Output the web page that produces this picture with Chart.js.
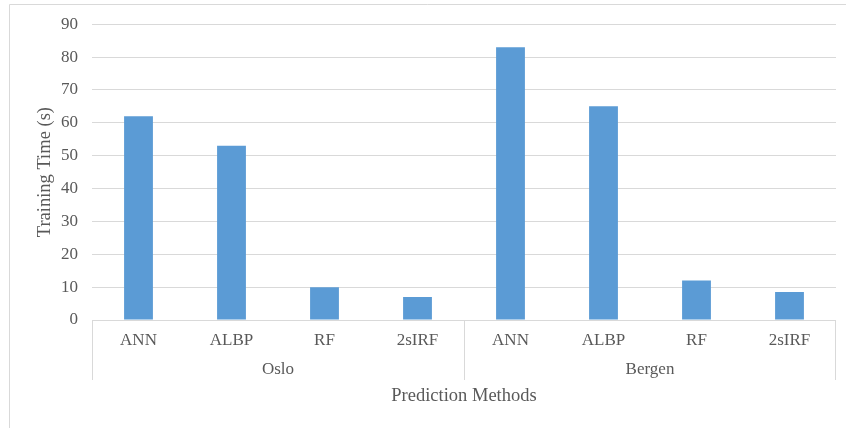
<!DOCTYPE html>
<html>
<head>
<meta charset="utf-8">
<script src="https://cdn.jsdelivr.net/npm/chart.js@4/dist/chart.umd.min.js"></script>
<style>
  html, body { margin: 0; padding: 0; background: #ffffff; }
  #wrap { width: 846px; height: 428px; }
</style>
</head>
<body>
<div id="wrap"><canvas id="chart" width="846" height="428"></canvas></div>
<script>
// Training time per prediction method, grouped by city
const groups = ['Oslo', 'Bergen'];
const methods = ['ANN', 'ALBP', 'RF', '2sIRF'];
const osloTimes = [62, 53, 10, 7];
const bergenTimes = [83, 65, 12, 8.5];
const yTicks = [0, 10, 20, 30, 40, 50, 60, 70, 80, 90];

const TEXT = '#595959';
const LINE = '#d9d9d9';
const FAMILY = '"Liberation Serif", "Times New Roman", serif';

const labels = groups.flatMap(() => methods);
const values = osloTimes.concat(bergenTimes);

// Outer frame plus the city row underneath the method labels
const groupAxis = {
  id: 'groupAxis',
  beforeDraw(chart) {
    const ctx = chart.ctx;
    ctx.save();
    ctx.fillStyle = '#ffffff';
    ctx.fillRect(0, 0, chart.width, chart.height);
    ctx.strokeStyle = LINE;
    ctx.lineWidth = 1;
    ctx.beginPath();
    ctx.moveTo(9.5, chart.height);
    ctx.lineTo(9.5, 4.5);
    ctx.lineTo(chart.width, 4.5);
    ctx.stroke();
    ctx.restore();
  },
  afterDraw(chart) {
    const ctx = chart.ctx;
    const x = chart.scales.x;
    const area = chart.chartArea;
    const half = (x.getPixelForValue(1) - x.getPixelForValue(0)) / 2;
    const lineBottom = area.bottom + 60;
    ctx.save();
    ctx.strokeStyle = LINE;
    ctx.lineWidth = 1;
    // axis line
    ctx.beginPath();
    ctx.moveTo(area.left, Math.round(area.bottom) + 0.5);
    ctx.lineTo(area.right, Math.round(area.bottom) + 0.5);
    ctx.stroke();
    ctx.fillStyle = TEXT;
    ctx.font = '17px ' + FAMILY;
    ctx.textAlign = 'center';
    ctx.textBaseline = 'middle';
    groups.forEach((g, gi) => {
      const first = gi * methods.length;
      const last = first + methods.length - 1;
      const l = x.getPixelForValue(first) - half;
      const r = x.getPixelForValue(last) + half;
      ctx.beginPath();
      ctx.moveTo(Math.round(l) + 0.5, area.bottom);
      ctx.lineTo(Math.round(l) + 0.5, lineBottom);
      if (gi === groups.length - 1) {
        ctx.moveTo(Math.round(r) - 0.5, area.bottom);
        ctx.lineTo(Math.round(r) - 0.5, lineBottom);
      }
      ctx.stroke();
      ctx.fillText(g, (l + r) / 2, area.bottom + 50);
    });
    ctx.restore();
  }
};

new Chart(document.getElementById('chart'), {
  type: 'bar',
  data: {
    labels: labels,
    datasets: [{
      label: 'Training Time (s)',
      data: values,
      backgroundColor: '#5b9bd5',
      borderWidth: 0,
      categoryPercentage: 1,
      barPercentage: 0.31
    }]
  },
  options: {
    responsive: false,
    animation: false,
    devicePixelRatio: 1,
    layout: { padding: { left: 0, top: 24, right: 10, bottom: 0 } },
    plugins: {
      legend: { display: false },
      tooltip: { enabled: false }
    },
    scales: {
      x: {
        grid: { display: false, drawTicks: false },
        border: { display: false },
        ticks: {
          color: TEXT,
          font: { family: FAMILY, size: 17 },
          padding: 10,
          maxRotation: 0,
          autoSkip: false
        },
        title: {
          display: true,
          text: 'Prediction Methods',
          color: TEXT,
          font: { family: FAMILY, size: 18.5 },
          padding: { top: 0, bottom: 21 }
        },
        afterFit(scale) { scale.height = 108; }
      },
      y: {
        min: 0,
        max: 90,
        afterBuildTicks(scale) { scale.ticks = yTicks.map(v => ({ value: v })); },
        grid: { color: LINE, lineWidth: 1, drawTicks: false },
        border: { display: false },
        ticks: {
          color: TEXT,
          font: { family: FAMILY, size: 17 },
          padding: 14
        },
        title: {
          display: true,
          text: 'Training Time (s)',
          color: TEXT,
          font: { family: FAMILY, size: 18.5 },
          padding: { top: 34, bottom: 0 }
        },
        afterFit(scale) { scale.width = 92; }
      }
    }
  },
  plugins: [groupAxis]
});
</script>
</body>
</html>
